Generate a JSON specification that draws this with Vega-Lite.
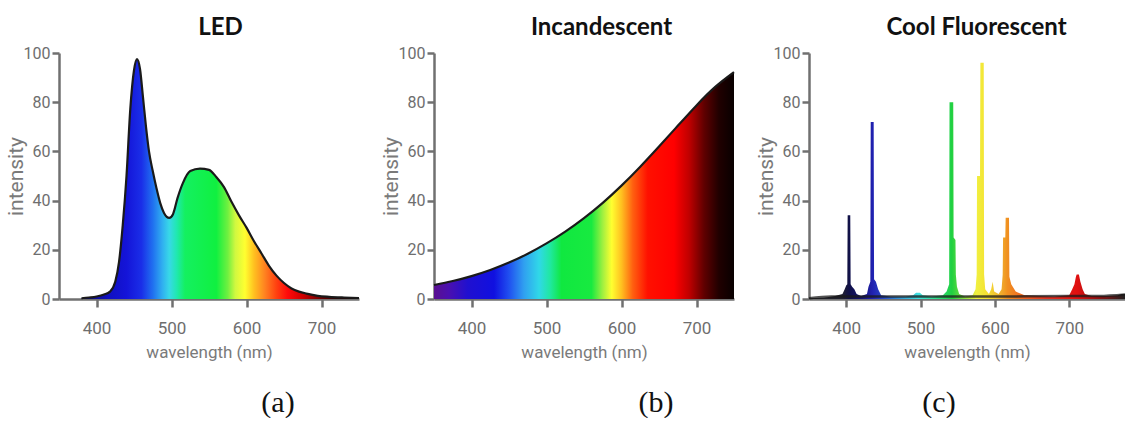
{
  "$schema": "https://vega.github.io/schema/vega-lite/v6.json",
  "background": "white",
  "padding": {"left": 5, "top": 15, "right": 0, "bottom": 0},
  "bounds": "flush",
  "spacing": 75,
  "datasets": {
    "led": [
      {"wl": 380, "intensity": 0.3}, {"wl": 390, "intensity": 0.6}, {"wl": 400, "intensity": 1}, {"wl": 410, "intensity": 1.8},
      {"wl": 418, "intensity": 3}, {"wl": 425, "intensity": 7}, {"wl": 430, "intensity": 15}, {"wl": 435, "intensity": 30},
      {"wl": 440, "intensity": 50}, {"wl": 445, "intensity": 77}, {"wl": 450, "intensity": 93}, {"wl": 454, "intensity": 97.5},
      {"wl": 458, "intensity": 93.5}, {"wl": 462, "intensity": 82}, {"wl": 466, "intensity": 70}, {"wl": 470, "intensity": 60},
      {"wl": 475, "intensity": 52}, {"wl": 480, "intensity": 45}, {"wl": 485, "intensity": 39}, {"wl": 490, "intensity": 35},
      {"wl": 497, "intensity": 33}, {"wl": 502, "intensity": 34.5}, {"wl": 508, "intensity": 41}, {"wl": 515, "intensity": 47},
      {"wl": 525, "intensity": 52}, {"wl": 538, "intensity": 53}, {"wl": 550, "intensity": 52.5}, {"wl": 560, "intensity": 49.5},
      {"wl": 570, "intensity": 45.5}, {"wl": 580, "intensity": 39.5}, {"wl": 590, "intensity": 34}, {"wl": 600, "intensity": 29},
      {"wl": 610, "intensity": 23.5}, {"wl": 620, "intensity": 18.5}, {"wl": 630, "intensity": 13.5}, {"wl": 640, "intensity": 9.5},
      {"wl": 650, "intensity": 6.5}, {"wl": 660, "intensity": 4.3}, {"wl": 670, "intensity": 3}, {"wl": 680, "intensity": 2.2},
      {"wl": 695, "intensity": 1.3}, {"wl": 710, "intensity": 0.9}, {"wl": 730, "intensity": 0.6}, {"wl": 750, "intensity": 0.4}
    ],
    "inc": [
      {"wl": 350, "intensity": 5.7}, {"wl": 375, "intensity": 7.3}, {"wl": 400, "intensity": 9.3}, {"wl": 425, "intensity": 11.8},
      {"wl": 450, "intensity": 14.8}, {"wl": 475, "intensity": 18.4}, {"wl": 500, "intensity": 22.6}, {"wl": 525, "intensity": 27.4},
      {"wl": 550, "intensity": 32.9}, {"wl": 575, "intensity": 39.1}, {"wl": 600, "intensity": 46.1}, {"wl": 625, "intensity": 53.8},
      {"wl": 650, "intensity": 62}, {"wl": 675, "intensity": 70.4}, {"wl": 700, "intensity": 78.7}, {"wl": 725, "intensity": 86.2},
      {"wl": 750, "intensity": 92.2}
    ],
    "fl": [
      {"wl": 350, "intensity": 0.3}, {"wl": 370, "intensity": 0.5}, {"wl": 385, "intensity": 1.2}, {"wl": 395, "intensity": 2},
      {"wl": 398, "intensity": 4}, {"wl": 400, "intensity": 5.5}, {"wl": 401.5, "intensity": 6}, {"wl": 402, "intensity": 34},
      {"wl": 405.5, "intensity": 34}, {"wl": 406, "intensity": 6}, {"wl": 408, "intensity": 5}, {"wl": 411, "intensity": 4},
      {"wl": 414, "intensity": 2}, {"wl": 420, "intensity": 1.2}, {"wl": 428, "intensity": 2}, {"wl": 430, "intensity": 5},
      {"wl": 432.5, "intensity": 7}, {"wl": 433, "intensity": 72}, {"wl": 437, "intensity": 72}, {"wl": 437.5, "intensity": 8},
      {"wl": 440, "intensity": 7}, {"wl": 443, "intensity": 4}, {"wl": 447, "intensity": 1.5}, {"wl": 460, "intensity": 1},
      {"wl": 480, "intensity": 1}, {"wl": 490, "intensity": 1.5}, {"wl": 494, "intensity": 2.5}, {"wl": 499, "intensity": 2.5},
      {"wl": 503, "intensity": 1.5}, {"wl": 515, "intensity": 1}, {"wl": 530, "intensity": 1.5}, {"wl": 535, "intensity": 3},
      {"wl": 538.5, "intensity": 6}, {"wl": 539, "intensity": 80}, {"wl": 544, "intensity": 80}, {"wl": 544.5, "intensity": 25},
      {"wl": 547, "intensity": 24}, {"wl": 547.5, "intensity": 10}, {"wl": 549, "intensity": 5}, {"wl": 552, "intensity": 2},
      {"wl": 560, "intensity": 1}, {"wl": 570, "intensity": 1.5}, {"wl": 574, "intensity": 4}, {"wl": 575.5, "intensity": 10},
      {"wl": 576, "intensity": 50}, {"wl": 580, "intensity": 50}, {"wl": 580.5, "intensity": 96}, {"wl": 585, "intensity": 96},
      {"wl": 585.5, "intensity": 10}, {"wl": 587, "intensity": 4}, {"wl": 592, "intensity": 2}, {"wl": 595, "intensity": 4},
      {"wl": 597, "intensity": 7}, {"wl": 599, "intensity": 3}, {"wl": 605, "intensity": 2}, {"wl": 609, "intensity": 4},
      {"wl": 610.5, "intensity": 10}, {"wl": 611, "intensity": 25}, {"wl": 614, "intensity": 25}, {"wl": 614.5, "intensity": 33},
      {"wl": 619, "intensity": 33}, {"wl": 619.5, "intensity": 9}, {"wl": 622, "intensity": 6}, {"wl": 628, "intensity": 3},
      {"wl": 640, "intensity": 1.5}, {"wl": 660, "intensity": 1.2}, {"wl": 680, "intensity": 1}, {"wl": 700, "intensity": 1.5},
      {"wl": 704, "intensity": 4}, {"wl": 707, "intensity": 6}, {"wl": 709, "intensity": 9}, {"wl": 710, "intensity": 10},
      {"wl": 713, "intensity": 10}, {"wl": 715, "intensity": 7}, {"wl": 718, "intensity": 4}, {"wl": 721, "intensity": 2},
      {"wl": 730, "intensity": 1.2}, {"wl": 750, "intensity": 1.2}, {"wl": 765, "intensity": 1.5}, {"wl": 770, "intensity": 2},
      {"wl": 775, "intensity": 2}
    ],
    "flbase": [
      {"wl": 350, "intensity": 0.3}, {"wl": 380, "intensity": 1}, {"wl": 500, "intensity": 1}, {"wl": 600, "intensity": 1},
      {"wl": 700, "intensity": 1.2}, {"wl": 740, "intensity": 1.2}, {"wl": 775, "intensity": 1.8}
    ]
  },
  "config": {
    "view": {"stroke": null},
    "axis": {
      "grid": false,
      "domainColor": "#707070", "domainWidth": 2.5,
      "tickColor": "#707070", "tickWidth": 2.5,
      "labelFont": "Roboto", "labelFontSize": 16, "labelColor": "#6e6e6e",
      "titleFont": "Roboto", "titleFontWeight": "normal", "titleColor": "#7a7a7a"
    },
    "axisBottom": {"tickSize": 8, "labelPadding": 13, "labelFontSize": 17, "titleFontSize": 17, "titleY": 58, "titleBaseline": "alphabetic"},
    "axisLeft": {"tickSize": 7, "labelPadding": 2, "titleFontSize": 21, "titleX": -43, "titleBaseline": "middle"}
  },
  "hconcat": [
    {
      "width": 300, "height": 246,
      "data": {"name": "led"},
      "title": {"text": "(a)", "orient": "bottom", "anchor": "middle", "dx": 69, "offset": 28, "font": "Liberation Serif", "fontSize": 30, "fontWeight": "normal", "color": "#111111"},
      "layer": [
        {
          "mark": {"type": "area", "interpolate": "monotone", "color": {
            "gradient": "linear", "x1": 0, "x2": 1, "y1": 0, "y2": 0,
            "stops": [
              {"offset": 0, "color": "#0a0a6a"}, {"offset": 0.095, "color": "#1010c0"}, {"offset": 0.162, "color": "#1414d8"},
              {"offset": 0.216, "color": "#1a2ee8"}, {"offset": 0.257, "color": "#2070f0"}, {"offset": 0.292, "color": "#30b0f0"},
              {"offset": 0.316, "color": "#38d8e8"}, {"offset": 0.343, "color": "#20e8b0"}, {"offset": 0.373, "color": "#14f060"},
              {"offset": 0.486, "color": "#10f040"}, {"offset": 0.527, "color": "#70f040"}, {"offset": 0.554, "color": "#d0f840"},
              {"offset": 0.589, "color": "#ffff30"}, {"offset": 0.622, "color": "#ffc020"}, {"offset": 0.662, "color": "#ff8020"},
              {"offset": 0.703, "color": "#ff4010"}, {"offset": 0.743, "color": "#ff0a0a"}, {"offset": 0.797, "color": "#d00000"},
              {"offset": 0.851, "color": "#800000"}, {"offset": 0.919, "color": "#300000"}, {"offset": 1, "color": "#100000"}
            ]}},
          "encoding": {
            "x": {"field": "wl", "type": "quantitative", "scale": {"domain": [350, 750]}, "axis": {"title": "wavelength (nm)", "values": [400, 500, 600, 700]}},
            "y": {"field": "intensity", "type": "quantitative", "scale": {"domain": [0, 100]}, "axis": {"title": "intensity", "values": [0, 20, 40, 60, 80, 100]}}
          }
        },
        {
          "mark": {"type": "line", "interpolate": "monotone", "color": "#1a1a1a", "strokeWidth": 2.2},
          "encoding": {
            "x": {"field": "wl", "type": "quantitative", "scale": {"domain": [350, 750]},
                  "axis": {"orient": "top", "title": "LED", "labels": false, "ticks": false, "domain": false, "titleX": 161, "titleY": -19, "titleAlign": "center", "titleBaseline": "alphabetic", "titleFont": "Lato", "titleFontSize": 24, "titleFontWeight": "bold", "titleColor": "#111111"}},
            "y": {"field": "intensity", "type": "quantitative"}
          }
        }
      ],
      "resolve": {"scale": {"x": "independent"}, "axis": {"x": "independent"}}
    },
    {
      "width": 300, "height": 246,
      "data": {"name": "inc"},
      "title": {"text": "(b)", "orient": "bottom", "anchor": "middle", "dx": 72, "offset": 28, "font": "Liberation Serif", "fontSize": 30, "fontWeight": "normal", "color": "#111111"},
      "layer": [
        {
          "mark": {"type": "area", "interpolate": "natural", "color": {
            "gradient": "linear", "x1": 0, "x2": 1, "y1": 0, "y2": 0,
            "stops": [
              {"offset": 0, "color": "#5a1090"}, {"offset": 0.05, "color": "#4a10b0"}, {"offset": 0.1125, "color": "#2010d0"},
              {"offset": 0.2, "color": "#1010e0"}, {"offset": 0.25, "color": "#2050f0"}, {"offset": 0.3, "color": "#30a0f0"},
              {"offset": 0.35, "color": "#30d8e8"}, {"offset": 0.3875, "color": "#20e8a0"}, {"offset": 0.425, "color": "#10e840"},
              {"offset": 0.525, "color": "#18ea40"}, {"offset": 0.5625, "color": "#a0f040"}, {"offset": 0.5925, "color": "#ffff30"},
              {"offset": 0.625, "color": "#ffc020"}, {"offset": 0.6625, "color": "#ff6010"}, {"offset": 0.7125, "color": "#ff1000"},
              {"offset": 0.8, "color": "#ff0000"}, {"offset": 0.85, "color": "#c00000"}, {"offset": 0.9, "color": "#600000"},
              {"offset": 0.95, "color": "#200000"}, {"offset": 1, "color": "#080000"}
            ]}},
          "encoding": {
            "x": {"field": "wl", "type": "quantitative", "scale": {"domain": [350, 750]}, "axis": {"title": "wavelength (nm)", "values": [400, 500, 600, 700]}},
            "y": {"field": "intensity", "type": "quantitative", "scale": {"domain": [0, 100]}, "axis": {"title": "intensity", "values": [0, 20, 40, 60, 80, 100]}}
          }
        },
        {
          "mark": {"type": "line", "interpolate": "natural", "color": "#1a1a1a", "strokeWidth": 2.2},
          "encoding": {
            "x": {"field": "wl", "type": "quantitative", "scale": {"domain": [350, 750]},
                  "axis": {"orient": "top", "title": "Incandescent", "labels": false, "ticks": false, "domain": false, "titleX": 167, "titleY": -19, "titleAlign": "center", "titleBaseline": "alphabetic", "titleFont": "Lato", "titleFontSize": 24, "titleFontWeight": "bold", "titleColor": "#111111"}},
            "y": {"field": "intensity", "type": "quantitative"}
          }
        }
      ],
      "resolve": {"scale": {"x": "independent"}, "axis": {"x": "independent"}}
    },
    {
      "width": 316, "height": 246,
      "data": {"name": "fl"},
      "title": {"text": "(c)", "orient": "bottom", "anchor": "middle", "dx": -28, "offset": 28, "font": "Liberation Serif", "fontSize": 30, "fontWeight": "normal", "color": "#111111"},
      "layer": [
        {
          "mark": {"type": "area", "interpolate": "linear", "color": {
            "gradient": "linear", "x1": 0, "x2": 1, "y1": 0, "y2": 0,
            "stops": [
              {"offset": 0, "color": "#202020"}, {"offset": 0.106, "color": "#202030"}, {"offset": 0.127, "color": "#101048"},
              {"offset": 0.165, "color": "#141470"}, {"offset": 0.2, "color": "#2020b0"}, {"offset": 0.235, "color": "#2848c8"},
              {"offset": 0.282, "color": "#3090d8"}, {"offset": 0.346, "color": "#40e0e0"}, {"offset": 0.4, "color": "#30e090"},
              {"offset": 0.452, "color": "#20d040"}, {"offset": 0.494, "color": "#90e040"}, {"offset": 0.529, "color": "#f0f040"},
              {"offset": 0.565, "color": "#f5e030"}, {"offset": 0.6, "color": "#f0b830"}, {"offset": 0.628, "color": "#f09020"},
              {"offset": 0.682, "color": "#f06020"}, {"offset": 0.753, "color": "#e03020"}, {"offset": 0.849, "color": "#e01010"},
              {"offset": 0.918, "color": "#901010"}, {"offset": 1, "color": "#202020"}
            ]}},
          "encoding": {
            "x": {"field": "wl", "type": "quantitative", "scale": {"domain": [350, 775]}, "axis": {"title": "wavelength (nm)", "values": [400, 500, 600, 700]}},
            "y": {"field": "intensity", "type": "quantitative", "scale": {"domain": [0, 100]}, "axis": {"title": "intensity", "values": [0, 20, 40, 60, 80, 100]}}
          }
        },
        {
          "data": {"name": "flbase"},
          "mark": {"type": "line", "interpolate": "monotone", "color": "#1a1a1a", "strokeWidth": 2.5, "opacity": 0.75},
          "encoding": {
            "x": {"field": "wl", "type": "quantitative", "scale": {"domain": [350, 775]},
                  "axis": {"orient": "top", "title": "Cool Fluorescent", "labels": false, "ticks": false, "domain": false, "titleX": 167, "titleY": -19, "titleAlign": "center", "titleBaseline": "alphabetic", "titleFont": "Lato", "titleFontSize": 24, "titleFontWeight": "bold", "titleColor": "#111111"}},
            "y": {"field": "intensity", "type": "quantitative"}
          }
        }
      ],
      "resolve": {"scale": {"x": "independent"}, "axis": {"x": "independent"}}
    }
  ]
}
